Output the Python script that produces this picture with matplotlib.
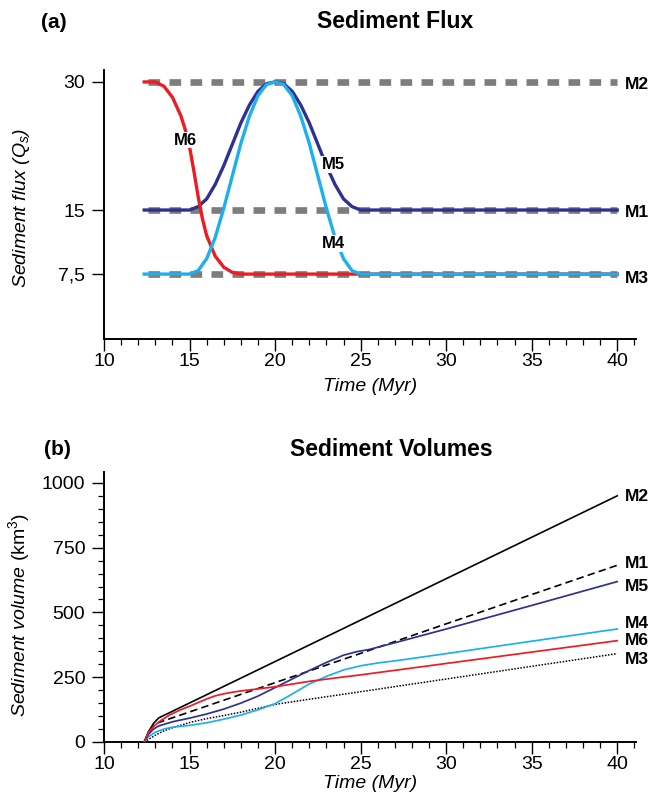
import matplotlib
matplotlib.use("Agg")
import matplotlib.pyplot as plt
from matplotlib.ticker import MultipleLocator

plt.rcParams['font.family'] = ['Liberation Sans', 'DejaVu Sans']
plt.rcParams['mathtext.fontset'] = 'custom'
plt.rcParams['mathtext.rm'] = 'Liberation Sans'
plt.rcParams['mathtext.it'] = 'Liberation Sans:italic'
plt.rcParams['mathtext.bf'] = 'Liberation Sans:bold'

RED = "#ed1c24"
NAVY = "#2e3192"
CYAN = "#1cb0ef"
GREY = "#7d7d7d"

# --- (a) sediment flux ---
flux_const_t = [12.6, 40]
flux_m2 = [30, 30]
flux_m1 = [15, 15]
flux_m3 = [7.5, 7.5]

m5_t = [12.35, 15, 15.5, 16, 16.5, 17, 17.5, 18, 18.5, 19, 19.5, 20,
        20.5, 21, 21.5, 22, 22.5, 23, 23.5, 24, 24.5, 25, 40]
m5_q = [15, 15, 15.4, 16.3, 18.0, 20.2, 22.7, 25.2, 27.3, 28.9, 29.8, 30,
        29.8, 28.9, 27.3, 25.2, 22.7, 20.2, 18.0, 16.3, 15.4, 15, 15]

m4_t = [12.35, 15, 15.5, 16, 16.5, 17, 17.5, 18, 18.5, 19, 19.5, 20,
        20.5, 21, 21.5, 22, 22.5, 23, 23.5, 24, 24.5, 25, 40]
m4_q = [7.5, 7.5, 7.9, 9.3, 11.8, 15.2, 19.0, 22.8, 26.0, 28.4, 29.7, 30,
        29.7, 28.4, 26.0, 22.8, 19.0, 15.2, 11.8, 9.3, 7.9, 7.5, 7.5]

m6_t = [12.35, 13, 13.5, 14, 14.5, 14.75, 15, 15.25, 15.5, 15.75, 16, 16.5,
        17, 17.5, 18, 40]
m6_q = [30, 30, 29.5, 28.2, 26.0, 24.4, 22.4, 19.6, 16.6, 14.0, 12.0, 9.6,
        8.3, 7.7, 7.5, 7.5]

# --- (b) sediment volumes ---
v_m2_t = [12.35, 12.6, 12.9, 13.2, 40]
v_m2 = [0, 40, 72, 93, 950]

v_m1_t = [12.35, 12.6, 12.8, 13.06, 20, 25, 30, 40]
v_m1 = [0, 35, 55, 72, 229, 342, 456, 682]

v_m5_t = [12.35, 12.6, 12.9, 13.2, 14, 15, 16, 17, 18, 19, 20, 21, 22, 23,
          24, 24.8, 25.5, 27, 30, 35, 40]
v_m5 = [0, 30, 50, 62, 78, 92, 108, 127, 150, 177, 210, 243, 276, 307,
        335, 349, 357, 383, 436, 527, 619]

v_m4_t = [12.35, 12.6, 13, 13.5, 14, 15, 16, 17, 18, 19, 20, 21, 22, 23,
          24, 25, 26, 27, 30, 35, 40]
v_m4 = [0, 20, 38, 50, 57, 64, 74, 88, 104, 124, 148, 185, 224, 253,
        278, 294, 305, 313, 341, 389, 436]

v_m6_t = [12.35, 12.6, 12.9, 13.3, 13.85, 14.5, 15, 15.5, 16, 16.5, 17,
          17.5, 18, 19, 20, 22, 24, 25, 30, 35, 40]
v_m6 = [0, 38, 60, 82, 105, 125, 138, 152, 166, 178, 186,
        192, 197, 205, 213, 234, 251, 259, 303, 347, 391]

v_m3_t = [12.35, 12.7, 13, 13.4, 14, 15, 16, 17, 18, 19, 20, 22, 25, 30, 35, 40]
v_m3 = [0, 14, 26, 40, 55, 75, 90, 102, 115, 130, 145, 165, 194, 243, 292, 341]


def style_axes(ax, ylim):
    ax.spines['top'].set_visible(False)
    ax.spines['right'].set_visible(False)
    ax.spines['left'].set_linewidth(1.4)
    ax.spines['bottom'].set_linewidth(1.4)
    ax.set_xlim(10, 41.1)
    ax.set_ylim(*ylim)
    ax.xaxis.set_major_locator(MultipleLocator(5))
    ax.xaxis.set_minor_locator(MultipleLocator(1))
    ax.tick_params(axis='both', which='major', direction='out', length=8.5,
                   width=1.0, labelsize=14)
    ax.tick_params(axis='both', which='minor', direction='out', length=4.5, width=0.9)
    ax.tick_params(axis='x', which='major', pad=1.5)
    ax.tick_params(axis='y', which='major', pad=5)


fig = plt.figure(figsize=(6.63, 7.98), dpi=100)
ax1 = fig.add_axes([0.1569, 0.5752, 0.8024, 0.3371])
ax2 = fig.add_axes([0.1569, 0.0702, 0.8024, 0.3383])

# (a)
style_axes(ax1, (-0.1, 31.4))
ax1.set_yticks([7.5, 15, 30])
ax1.set_yticklabels(["7,5", "15", "30"])
for q in (flux_m2, flux_m1, flux_m3):
    ax1.plot(flux_const_t, q, color=GREY, lw=4.8, dashes=(1.75, 1.4),
             solid_capstyle='butt', dash_capstyle='butt', zorder=1)
ax1.plot(m5_t, m5_q, color=NAVY, lw=2.4, zorder=2, solid_joinstyle='round')
ax1.plot(m6_t, m6_q, color=RED, lw=2.4, zorder=3, solid_joinstyle='round')
ax1.plot(m4_t, m4_q, color=CYAN, lw=2.4, zorder=4, solid_joinstyle='round')

lab = dict(ha='center', va='center', fontsize=12, fontweight='bold',
           bbox=dict(fc='white', ec='none', pad=0.6), zorder=6)
ax1.text(14.77, 23.2, "M6", **lab)
ax1.text(23.42, 20.3, "M5", **lab)
ax1.text(23.42, 11.1, "M4", **lab)
for name, y in (("M2", 29.65), ("M1", 14.75), ("M3", 7.0)):
    ax1.text(40.45, y, name, ha='left', va='center', fontsize=12.5,
             fontweight='bold', clip_on=False)

ax1.set_xlabel("Time (Myr)", fontsize=14, style='italic', labelpad=6)
ax1.set_ylabel(r"Sediment flux (Q$_s$)", fontsize=14, style='italic')
ax1.yaxis.set_label_coords(-0.135, 0.487)

# (b)
style_axes(ax2, (0, 1042))
ax2.yaxis.set_major_locator(MultipleLocator(250))
ax2.yaxis.set_minor_locator(MultipleLocator(50))
ax2.plot(v_m3_t, v_m3, color='black', lw=1.1, ls=(0, (1, 1)), zorder=2)
ax2.plot(v_m1_t, v_m1, color='black', lw=1.2, ls=(0, (4.5, 2.5)), zorder=2)
ax2.plot(v_m2_t, v_m2, color='black', lw=1.2, zorder=3)
ax2.plot(v_m4_t, v_m4, color=CYAN, lw=1.25, zorder=3)
ax2.plot(v_m5_t, v_m5, color=NAVY, lw=1.25, zorder=4)
ax2.plot(v_m6_t, v_m6, color=RED, lw=1.25, zorder=5)
for name, y in (("M2", 946), ("M1", 687), ("M5", 602), ("M4", 459),
                ("M6", 390), ("M3", 317)):
    ax2.text(40.45, y, name, ha='left', va='center', fontsize=12.5,
             fontweight='bold', clip_on=False)

ax2.set_xlabel("Time (Myr)", fontsize=14, style='italic', labelpad=1.5)
ax2.set_ylabel(r"$\mathit{Sediment\ volume}$ (km$^3$)", fontsize=14)
ax2.yaxis.set_label_coords(-0.135, 0.47)

fig.text(395 / 663, 1 - 21 / 798, "Sediment Flux", ha='center', va='center',
         fontsize=16.5, fontweight='bold')
fig.text(54 / 663, 1 - 22 / 798, "(a)", ha='center', va='center',
         fontsize=15, fontweight='bold')
fig.text(391 / 663, 1 - 449 / 798, "Sediment Volumes", ha='center', va='center',
         fontsize=16.5, fontweight='bold')
fig.text(57 / 663, 1 - 449 / 798, "(b)", ha='center', va='center',
         fontsize=15, fontweight='bold')

fig.savefig("out.png", dpi=100)
